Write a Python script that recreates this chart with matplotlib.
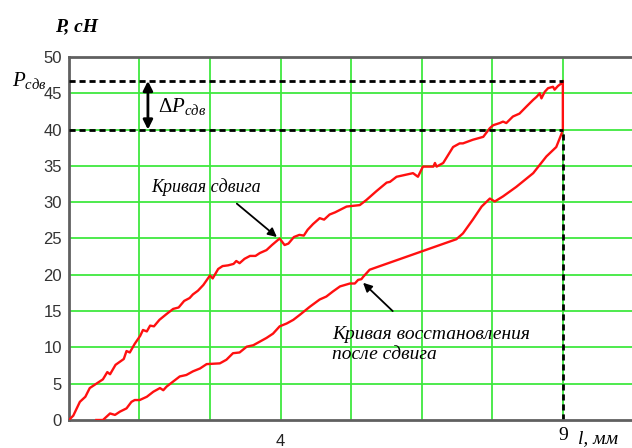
import numpy as np
import matplotlib
matplotlib.use('Agg')
import matplotlib.pyplot as plt

plt.rcParams['mathtext.fontset'] = 'custom'
plt.rcParams['mathtext.rm'] = 'Liberation Serif'
plt.rcParams['mathtext.it'] = 'Liberation Serif:italic'

# Кривая сдвига (l, мм ; P, сН)
l_sdv = [0, 0.08, 0.2, 0.3, 0.38, 0.5, 0.62, 0.7, 0.75, 0.85, 1.0, 1.05, 1.11, 1.2,
         1.3, 1.35, 1.42, 1.48, 1.55, 1.65, 1.78, 1.9, 2.0, 2.1, 2.2, 2.26, 2.35,
         2.45, 2.57, 2.62, 2.72, 2.8, 2.9, 3.0, 3.05, 3.11, 3.2, 3.3, 3.4, 3.48,
         3.6, 3.7, 3.84, 3.93, 4.0, 4.1, 4.2, 4.28, 4.35, 4.45, 4.57, 4.65, 4.75,
         4.85, 5.06, 5.3, 5.42, 5.6, 5.79, 5.85, 5.97, 6.27, 6.36, 6.45, 6.64, 6.67,
         6.7, 6.82, 7.0, 7.12, 7.18, 7.36, 7.55, 7.67, 7.73, 7.85, 7.91, 7.97, 8.09,
         8.21, 8.34, 8.46, 8.52, 8.58, 8.61, 8.67, 8.73, 8.82, 8.85, 8.91, 8.98,
         9.0, 9.0]
p_sdv = [0, 0.6, 2.5, 3.2, 4.4, 5.0, 5.6, 6.6, 6.3, 7.6, 8.4, 9.5, 9.3, 10.5,
         11.6, 12.4, 12.2, 13.0, 12.9, 13.8, 14.6, 15.3, 15.5, 16.4, 16.8, 17.3, 17.8,
         18.6, 19.9, 19.5, 20.8, 21.2, 21.3, 21.5, 21.9, 21.6, 22.2, 22.6, 22.6, 23.0,
         23.4, 24.1, 25.0, 24.1, 24.3, 25.2, 25.5, 25.4, 26.2, 27.0, 27.8, 27.6, 28.3,
         28.6, 29.4, 29.6, 30.3, 31.5, 32.7, 32.8, 33.5, 34.0, 33.5, 34.9, 34.9, 35.4,
         34.9, 35.4, 37.6, 38.1, 38.1, 38.6, 39.0, 40.2, 40.6, 40.9, 41.1, 40.9, 41.8,
         42.2, 43.2, 44.1, 44.5, 45.0, 44.3, 45.2, 45.7, 45.9, 45.5, 46.0, 46.4,
         46.7, 40.0]

# Кривая восстановления после сдвига
l_vos = [0.5, 0.62, 0.75, 0.84, 0.93, 1.05, 1.14, 1.2, 1.29, 1.42, 1.54, 1.66, 1.72,
         1.78, 1.9, 2.02, 2.14, 2.26, 2.39, 2.51, 2.75, 2.87, 2.99, 3.11, 3.24, 3.36,
         3.48, 3.6, 3.72, 3.84, 3.97, 4.09, 4.21, 4.39, 4.57, 4.69, 4.81, 4.94, 5.12,
         5.21, 5.27, 5.33, 5.36, 5.48, 7.06, 7.18, 7.36, 7.52, 7.67, 7.76, 7.91, 8.15,
         8.46, 8.7, 8.88, 8.98]
p_vos = [0, 0, 0.9, 0.7, 1.15, 1.6, 2.5, 2.75, 2.75, 3.2, 3.9, 4.4, 4.1,
         4.6, 5.3, 6.0, 6.2, 6.7, 7.1, 7.7, 7.8, 8.3, 9.2, 9.3, 10.1, 10.3,
         10.8, 11.3, 11.9, 12.9, 13.3, 13.8, 14.5, 15.6, 16.6, 17.0, 17.7, 18.4, 18.8,
         18.8, 19.3, 19.4, 19.7, 20.7, 24.9, 25.7, 27.6, 29.4, 30.5, 30.1, 30.8, 32.1,
         34.0, 36.3, 37.6, 39.5]

p_max = 46.7
p_min = 40.0
l_end = 9.0

fig = plt.figure(figsize=(6.32, 4.48), dpi=100)
ax = fig.add_axes([0.109, 0.0625, 0.891, 0.8103])

# сетка
for k in range(8):
    ax.axvline(k * 9 / 7, color='#3fe83f', lw=1.3, zorder=1)
for yv in range(5, 50, 5):
    ax.axhline(yv, color='#3fe83f', lw=1.3, zorder=1)

ax.plot(l_sdv, p_sdv, color='#ff1010', lw=1.7, zorder=3)
ax.plot(l_vos, p_vos, color='#ff1010', lw=1.7, zorder=3)

# пунктир
ax.plot([0, l_end], [p_max, p_max], color='black', lw=2, dashes=(2.2, 1.4), zorder=4)
ax.plot([0, l_end], [p_min, p_min], color='black', lw=2, dashes=(2.2, 1.4), zorder=4)
ax.plot([l_end, l_end], [0, p_min], color='black', lw=2, dashes=(2.2, 1.4), zorder=2)

ax.set_xlim(0, 10.26)
ax.set_ylim(0, 50)
ax.set_yticks(range(0, 51, 5))
ax.set_xticks([27 / 7])
ax.set_xticklabels(['4'], fontfamily='Liberation Sans', fontsize=12, color='#222222')
for t in ax.get_yticklabels():
    t.set_fontfamily('Liberation Sans')
    t.set_fontsize(12)
    t.set_color('#333333')
ax.tick_params(length=0, pad=5)
ax.tick_params(axis='x', pad=10)

for s in ['left', 'bottom', 'top']:
    ax.spines[s].set_color('#606060')
    ax.spines[s].set_linewidth(2)
ax.spines['right'].set_visible(False)

serif = 'Liberation Serif'
ax.text(-0.25, 54.1, 'P, cH', fontfamily=serif, style='italic', fontsize=14,
        fontweight='bold', va='center', ha='left', clip_on=False)
ax.text(-1.04, 46.7, r'$P_{сдв}$', fontsize=15, va='center', ha='left', clip_on=False)
ax.text(1.62, 43.2, r'$\Delta P_{сдв}$', fontsize=15, va='center', ha='left')
ax.annotate('', xy=(1.44, p_min), xytext=(1.44, p_max),
            arrowprops=dict(arrowstyle='<|-|>', color='black', lw=2, mutation_scale=14,
                            shrinkA=0, shrinkB=0))

ax.text(2.5, 32.1, 'Кривая сдвига', fontfamily=serif, style='italic', fontsize=13,
        ha='center', va='center')
ax.annotate('', xy=(3.79, 25.2), xytext=(3.06, 29.8),
            arrowprops=dict(arrowstyle='-|>', color='black', lw=1.3, mutation_scale=13,
                            shrinkA=0, shrinkB=0))

ax.text(4.79, 10.4, 'Кривая восстановления\nпосле сдвига', fontfamily=serif,
        style='italic', fontsize=14, ha='left', va='center', linespacing=1.2)
ax.annotate('', xy=(5.36, 18.9), xytext=(5.9, 15.0),
            arrowprops=dict(arrowstyle='-|>', color='black', lw=1.3, mutation_scale=13,
                            shrinkA=0, shrinkB=0))

ax.text(9.0, -2.1, '9', fontfamily=serif, fontsize=14, ha='center', va='center',
        clip_on=False)
ax.text(9.27, -2.5, 'l, мм', fontfamily=serif, style='italic', fontsize=14,
        ha='left', va='center', clip_on=False)

fig.savefig('out.png', dpi=100)
